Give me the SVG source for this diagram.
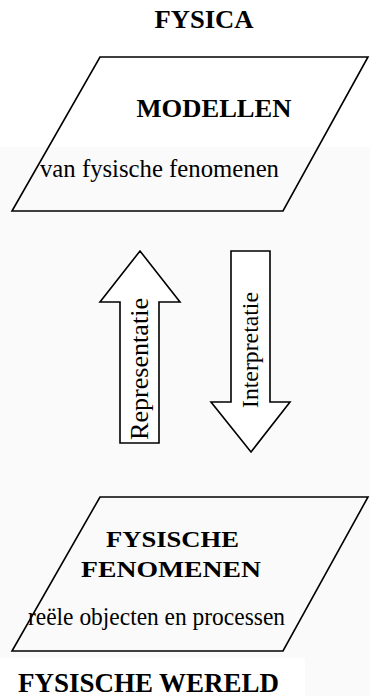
<svg xmlns="http://www.w3.org/2000/svg" width="370" height="696" viewBox="0 0 370 696">
<style>
.shape{fill:none;stroke:#000;stroke-width:1.6;stroke-linejoin:miter}
.arrow{fill:#fff;stroke:#000;stroke-width:1.6;stroke-linejoin:miter}
.b{font-family:"Liberation Serif","Times New Roman",serif;font-weight:bold;fill:#000}
.r{font-family:"Liberation Serif","Times New Roman",serif;fill:#000}
</style>
<rect x="0" y="0" width="370" height="696" fill="#fff"/>
<rect x="0" y="147" width="370" height="511" fill="#fafafa"/>
<rect x="305" y="658" width="65" height="38" fill="#fafafa"/>
<g id="title-top">
<text class="b" x="204" y="28" font-size="25" text-anchor="middle" textLength="99" lengthAdjust="spacingAndGlyphs">FYSICA</text>
</g>
<g id="modellen">
<polygon class="shape" points="100,57 368,57 283,211 12,211"/>
<text class="b" x="214" y="117" font-size="26" text-anchor="middle" textLength="155" lengthAdjust="spacingAndGlyphs">MODELLEN</text>
<text class="r" x="159.5" y="177" font-size="26" text-anchor="middle" textLength="239" lengthAdjust="spacingAndGlyphs">van fysische fenomenen</text>
</g>
<g id="connectors">
<g id="representatie">
<polygon class="arrow" points="140,251 180,302 159,302 159,443 120,443 120,302 100,302"/>
<text class="r" transform="translate(148,369) rotate(-90)" font-size="25" text-anchor="middle" textLength="142" lengthAdjust="spacingAndGlyphs">Representatie</text>
</g>
<g id="interpretatie">
<polygon class="arrow" points="231,251 270,251 270,402 290,402 251,452 211,402 231,402"/>
<text class="r" transform="translate(257.5,350) rotate(-90)" font-size="24" text-anchor="middle" textLength="116" lengthAdjust="spacingAndGlyphs">Interpretatie</text>
</g>
</g>
<g id="fenomenen">
<polygon class="shape" points="100,497 368,497 283,651 12,651"/>
<text class="b" x="172.5" y="547" font-size="24" text-anchor="middle" textLength="133" lengthAdjust="spacingAndGlyphs">FYSISCHE</text>
<text class="b" x="171" y="577" font-size="24" text-anchor="middle" textLength="180" lengthAdjust="spacingAndGlyphs">FENOMENEN</text>
<text class="r" x="156.5" y="625" font-size="26" text-anchor="middle" textLength="257" lengthAdjust="spacingAndGlyphs">reële objecten en processen</text>
</g>
<g id="title-bottom">
<text class="b" x="148.5" y="692" font-size="27" text-anchor="middle" textLength="261" lengthAdjust="spacingAndGlyphs">FYSISCHE WERELD</text>
</g>
</svg>
